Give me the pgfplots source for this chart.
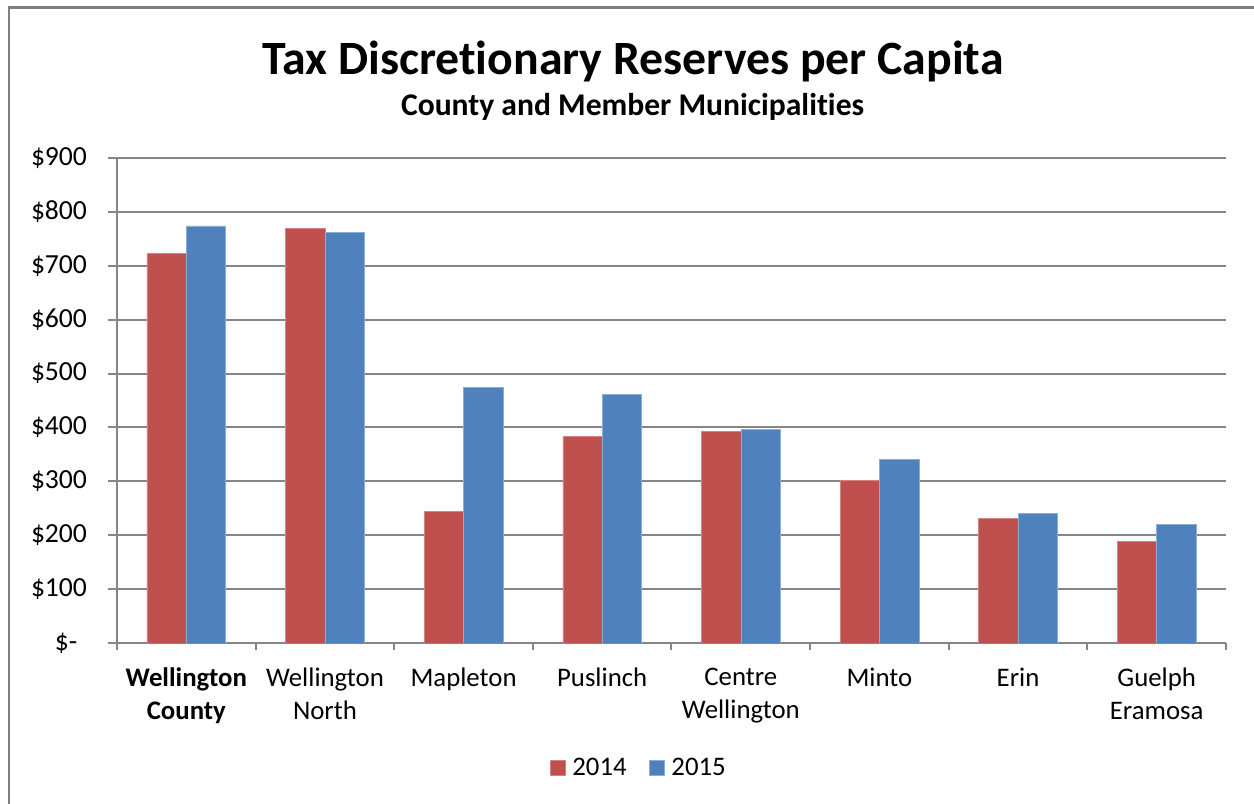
\documentclass[border=0pt]{standalone}
\usepackage{pgfplots}
\pgfplotsset{compat=1.18}
\usepackage{fontspec}
\setmainfont{Carlito}[Ligatures=NoCommon]

\definecolor{bar2014}{HTML}{C0504D}
\definecolor{bar2015}{HTML}{4F81BD}
\definecolor{gridgray}{HTML}{868686}
\definecolor{framegray}{HTML}{7F7F7F}

\begin{document}
\begin{tikzpicture}
\path[use as bounding box] (0,0) rectangle (627bp,402bp);
% chart frame (open at right and bottom)
\draw[framegray, line width=1.2bp] (4.6bp,0) -- (4.6bp,398.3bp) -- (627bp,398.3bp);

% titles
\node[anchor=base, font=\fontsize{23.9bp}{28bp}\selectfont\bfseries] at (316.5bp,364.5bp)
  {Tax Discretionary Reserves per Capita};
\node[anchor=base, font=\fontsize{15.8bp}{18bp}\selectfont\bfseries] at (316.3bp,344bp)
  {County and Member Municipalities};

\begin{axis}[
  at={(58.5bp,80.5bp)}, anchor=south west,
  scale only axis,
  width=554.5bp, height=242.5bp,
  xmin=-0.5, xmax=7.5,
  ymin=0, ymax=900,
  axis x line=bottom, axis y line=left,
  axis line style={-, gridgray, line width=1bp},
  tick align=outside,
  xtick={0,...,7},
  major x tick style={draw=none},
  minor xtick={-0.5,0.5,...,7.5},
  minor tick length=3.5bp,
  minor x tick style={gridgray, line width=1bp},
  xticklabels={\textbf{Wellington}\\\textbf{County},Wellington\\North,Mapleton,Puslinch,Centre\\Wellington,Minto,Erin,Guelph\\Eramosa},
  xticklabel style={align=center, font=\fontsize{13.4bp}{16.5bp}\selectfont, yshift=-4.5bp},
  ytick={0,100,...,900},
  yticklabels={\makebox[28.5bp][l]{\hspace{12.5bp}\$-},\$100,\$200,\$300,\$400,\$500,\$600,\$700,\$800,\$900},
  yticklabel style={font=\fontsize{13.8bp}{15bp}\selectfont, xshift=-7bp},
  major tick length=4.5bp,
  major y tick style={gridgray, line width=1bp},
  ymajorgrids,
  major grid style={gridgray, line width=1bp},
  ybar,
  bar width=0.284,
  legend style={at={(axis description cs:0.4713,-0.2577)}, anchor=center,
    draw=none, font=\fontsize{13.4bp}{15bp}\selectfont,
    legend columns=2, /tikz/every even column/.append style={column sep=9bp}},
  legend image code/.code={\fill[#1] (0bp,-3.8bp) rectangle (7.6bp,3.8bp); \path (9.1bp,0bp);},
]
\addplot[fill=bar2014, draw=bar2014!70!white, line width=0.3bp, bar shift=-0.142]
  coordinates {(0,723) (1,769) (2,244) (3,384) (4,392) (5,301) (6,231) (7,189)};
\addplot[fill=bar2015, draw=bar2015!65!white, line width=0.3bp, bar shift=0.142]
  coordinates {(0,774) (1,762) (2,474) (3,462) (4,397) (5,340) (6,240) (7,220)};
\legend{2014,2015}
\end{axis}
\end{tikzpicture}
\end{document}
